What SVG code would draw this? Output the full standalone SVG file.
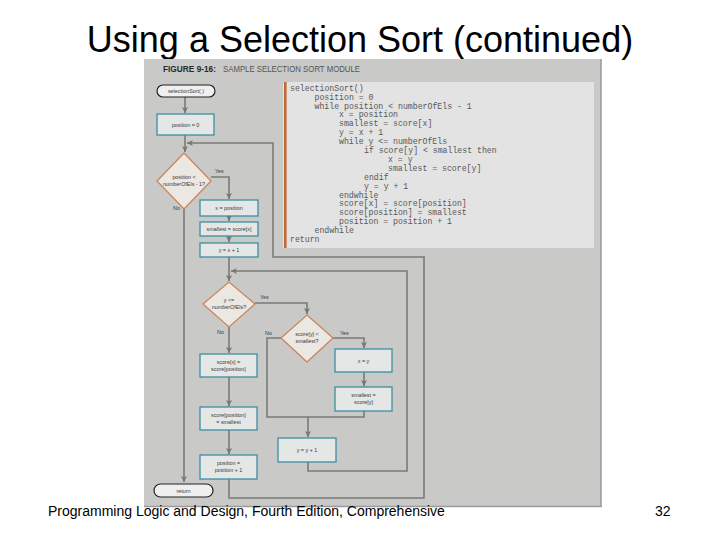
<svg xmlns="http://www.w3.org/2000/svg" width="720" height="540" viewBox="0 0 720 540">
<defs>
<marker id="ah" markerUnits="userSpaceOnUse" markerWidth="7" markerHeight="7" refX="6" refY="3" orient="auto">
<path d="M0,0 L6,3 L0,6 L1.6,3 z" fill="#767676"/>
</marker>
<style>
.box{fill:#e5e7e7;stroke:#3d8ea3;stroke-width:1.3}
.dia{fill:#ebe7e3;stroke:#cd8659;stroke-width:1.3}
.term{fill:#efefef;stroke:#222;stroke-width:1.2}
.c{fill:none;stroke:#7a7a7a;stroke-width:1.6}
.ca{fill:none;stroke:#7a7a7a;stroke-width:1.6;marker-end:url(#ah)}
.t{font-family:"Liberation Sans",Arial,sans-serif;font-size:5.4px;fill:#3a3a3a;text-anchor:middle}
.lbl{font-family:"Liberation Sans",Arial,sans-serif;font-size:5.4px;fill:#3a3a3a}
.code{font-family:"Liberation Mono","Courier New",monospace;font-size:8.2px;fill:#585858}
</style>
</defs>
<rect width="720" height="540" fill="#ffffff"/>
<text x="360" y="52" font-family="Liberation Sans,Arial,sans-serif" font-size="36" fill="#000" text-anchor="middle">Using a Selection Sort (continued)</text>

<g id="panel">
<rect x="144" y="59" width="457" height="448" fill="#c9c9c7"/>
<line x1="601" y1="59" x2="601" y2="507" stroke="#9a9a9a" stroke-width="1.5"/>
<line x1="144" y1="506.5" x2="602" y2="506.5" stroke="#9a9a9a" stroke-width="1.5"/>
<text x="163" y="72" font-family="Liberation Sans,Arial,sans-serif" font-size="8.6" font-weight="bold" fill="#2a2a2a" textLength="53" lengthAdjust="spacingAndGlyphs">FIGURE 9-16:</text>
<text x="223" y="72" font-family="Liberation Sans,Arial,sans-serif" font-size="8.6" fill="#555" textLength="137" lengthAdjust="spacingAndGlyphs">SAMPLE SELECTION SORT MODULE</text>
</g>

<g id="code">
<rect x="283" y="82" width="311" height="166" fill="#e3e3e3"/>
<rect x="284" y="82" width="2.6" height="166" fill="#c06a38"/>
<text class="code" x="290" y="90.7">selectionSort()</text>
<text class="code" x="314.5" y="99.6">position = 0</text>
<text class="code" x="314.5" y="108.5">while position &lt; numberOfEls - 1</text>
<text class="code" x="339" y="117.4">x = position</text>
<text class="code" x="339" y="126.3">smallest = score[x]</text>
<text class="code" x="339" y="135.2">y = x + 1</text>
<text class="code" x="339" y="144.1">while y &lt;= numberOfEls</text>
<text class="code" x="364" y="153">if score[y] &lt; smallest then</text>
<text class="code" x="388" y="161.9">x = y</text>
<text class="code" x="388" y="170.8">smallest = score[y]</text>
<text class="code" x="364" y="179.7">endif</text>
<text class="code" x="364" y="188.6">y = y + 1</text>
<text class="code" x="339" y="197.5">endwhile</text>
<text class="code" x="339" y="206.4">score[x] = score[position]</text>
<text class="code" x="339" y="215.3">score[position] = smallest</text>
<text class="code" x="339" y="224.2">position = position + 1</text>
<text class="code" x="314.5" y="233.1">endwhile</text>
<text class="code" x="290" y="242">return</text>
</g>

<g id="connectors">
<path class="ca" d="M185,97 V113"/>
<path class="ca" d="M185,135 V152"/>
<path class="ca" d="M229,479 V498 H424 V257 H273 V143 H187"/>
<path class="ca" d="M211,177 H229 V199"/>
<path class="ca" d="M184,209 V482"/>
<path class="ca" d="M229,216 V221"/>
<path class="ca" d="M229,236 V242"/>
<path class="ca" d="M229,257 V281"/>
<path class="ca" d="M308,462 V471 H407 V271 H231"/>
<path class="ca" d="M255,303 H307 V314"/>
<path class="ca" d="M229,327 V353"/>
<path class="ca" d="M333,338 H364 V348"/>
<path class="ca" d="M364,372 V386"/>
<path class="c" d="M364,411 V417 H267 V338 H281"/>
<path class="ca" d="M308,417 V437"/>
<path class="ca" d="M229,377 V406"/>
<path class="ca" d="M229,430 V454"/>
<text class="lbl" x="215" y="173">Yes</text>
<text class="lbl" x="173" y="210">No</text>
<text class="lbl" x="260" y="299">Yes</text>
<text class="lbl" x="217" y="334">No</text>
<text class="lbl" x="340" y="335">Yes</text>
<text class="lbl" x="265" y="335">No</text>
</g>

<g id="start"><rect class="term" x="157" y="85" width="58" height="12" rx="6"/><text class="t" x="186" y="93">selectionSort( )</text></g>
<g id="pos0"><rect class="box" x="157" y="114" width="57" height="21"/><text class="t" x="185.5" y="126.5">position = 0</text></g>
<g id="dec1"><polygon class="dia" points="184,153 211,181 184,209 157,181"/><text class="t" x="184" y="179">position &lt;</text><text class="t" x="184" y="186">numberOfEls - 1?</text></g>
<g id="xpos"><rect class="box" x="200" y="200" width="58" height="16"/><text class="t" x="229" y="210">x = position</text></g>
<g id="small1"><rect class="box" x="200" y="222" width="58" height="14"/><text class="t" x="229" y="231">smallest = score[x]</text></g>
<g id="yx1"><rect class="box" x="200" y="243" width="58" height="14"/><text class="t" x="229" y="252">y = x + 1</text></g>
<g id="dec2"><polygon class="dia" points="229,282 255,304 229,327 203,304"/><text class="t" x="229" y="302">y &lt;=</text><text class="t" x="229" y="309">numberOfEls?</text></g>
<g id="dec3"><polygon class="dia" points="307,315 333,338 307,362 281,338"/><text class="t" x="307" y="336">score[y] &lt;</text><text class="t" x="307" y="343">smallest?</text></g>
<g id="xy"><rect class="box" x="335" y="349" width="57" height="23"/><text class="t" x="363.5" y="362.5">x = y</text></g>
<g id="small2"><rect class="box" x="335" y="387" width="57" height="24"/><text class="t" x="363.5" y="397">smallest =</text><text class="t" x="363.5" y="404">score[y]</text></g>
<g id="yy1"><rect class="box" x="278" y="438" width="58" height="24"/><text class="t" x="307" y="452">y = y + 1</text></g>
<g id="swap1"><rect class="box" x="200" y="354" width="57" height="23"/><text class="t" x="228.5" y="364">score[x] =</text><text class="t" x="228.5" y="371">score[position]</text></g>
<g id="swap2"><rect class="box" x="200" y="407" width="57" height="23"/><text class="t" x="228.5" y="417">score[position]</text><text class="t" x="228.5" y="424">= smallest</text></g>
<g id="posinc"><rect class="box" x="200" y="455" width="57" height="24"/><text class="t" x="228.5" y="465">position =</text><text class="t" x="228.5" y="472">position + 1</text></g>
<g id="ret"><rect class="term" x="154" y="484" width="59" height="13" rx="6.5"/><text class="t" x="183.5" y="492.5">return</text></g>

<text x="48" y="516" font-family="Liberation Sans,Arial,sans-serif" font-size="14" fill="#000">Programming Logic and Design, Fourth Edition, Comprehensive</text>
<text x="655" y="516" font-family="Liberation Sans,Arial,sans-serif" font-size="14" fill="#000">32</text>
</svg>
